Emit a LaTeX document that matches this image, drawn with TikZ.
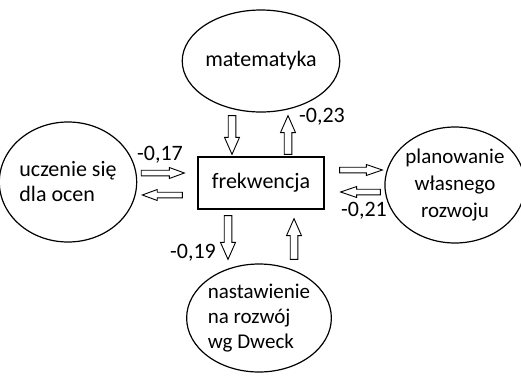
\documentclass[tikz,border=0pt]{standalone}
\usepackage{fontspec}
\setmainfont{Carlito}
\usetikzlibrary{shapes.geometric,calc}

\tikzset{
  every node/.style={font=\fontsize{22}{25}\selectfont},
  bubble/.style={ellipse, draw, line width=1.2pt, inner sep=0pt},
  framebox/.style={rectangle, draw, line width=1.3pt},
  coef/.style={inner sep=0pt, anchor=center},
  hollowarrow/.style={draw, line width=0.9pt, fill=white, line join=miter},
}

% hollow block arrow: from, to, shaft half width, head half width, head length
\newcommand\blockarrow[5]{%
  \path ($(#2)!#5!(#1)$) coordinate (ba-base);
  \draw[hollowarrow] ($(#1)!#3!90:(#2)$) -- ($(ba-base)!#3!90:(#2)$)
    -- ($(ba-base)!#4!90:(#2)$) -- (#2) -- ($(ba-base)!#4!-90:(#2)$)
    -- ($(ba-base)!#3!-90:(#2)$) -- ($(#1)!#3!-90:(#2)$) -- cycle;
}

\begin{document}
\begin{tikzpicture}[x=1pt,y=-1pt]
  \useasboundingbox (0,0) rectangle (521,375);

  \node[bubble, minimum width=132pt, minimum height=102pt] (mat) at (261,61) {matematyka};
  \node[framebox, minimum width=126pt, minimum height=52pt] (frek) at (261,183) {frekwencja};
  \node[bubble, minimum width=130pt, minimum height=120pt, align=left] (ucz) at (68,182) {uczenie się\\dla ocen};
  \node[bubble, minimum width=130pt, minimum height=116pt, align=center,
        font=\fontsize{21}{27}\selectfont] (plan) at (455,185) {planowanie\\własnego\\rozwoju};
  \node[bubble, minimum width=132pt, minimum height=108pt, align=left,
        font=\fontsize{21}{25}\selectfont] (nast) at (259,318) {nastawienie\\na rozwój\\wg Dweck};

  % vertical arrows to and from the top
  \blockarrow{$(mat.south)+(-29,3)$}{$(frek.north)+(-29,-2)$}{3.8pt}{7.5pt}{17pt}
  \blockarrow{$(frek.north)+(27,-2)$}{$(mat.south)+(27,3)$}{3.8pt}{7.5pt}{17pt}

  % horizontal arrows on the left
  \blockarrow{$(ucz.east)+(4,-9)$}{$(frek.west)+(-13,-10)$}{2.8pt}{5.5pt}{15pt}
  \blockarrow{$(frek.west)+(-15,12)$}{$(ucz.east)+(5,13)$}{2.8pt}{5.5pt}{15pt}

  % horizontal arrows on the right
  \blockarrow{$(frek.east)+(15,-13)$}{$(plan.west)+(-2,-15)$}{2.8pt}{5.5pt}{16pt}
  \blockarrow{$(plan.west)+(-4,7)$}{$(frek.east)+(16,9)$}{2.8pt}{5.5pt}{16pt}

  % vertical arrows to and from the bottom
  \blockarrow{$(frek.south)+(-33,6)$}{$(nast.north)+(-31,-4)$}{3.8pt}{7.5pt}{17pt}
  \blockarrow{$(nast.north)+(35,-4)$}{$(frek.south)+(33,9)$}{3.8pt}{7.5pt}{17pt}

  % path coefficients
  \node[coef] (c23) at (322,117) {-0,23};
  \node[coef] (c17) at (160,155) {-0,17};
  \node[coef] (c21) at (364,211) {-0,21};
  \node[coef] (c19) at (193,253) {-0,19};
\end{tikzpicture}
\end{document}
